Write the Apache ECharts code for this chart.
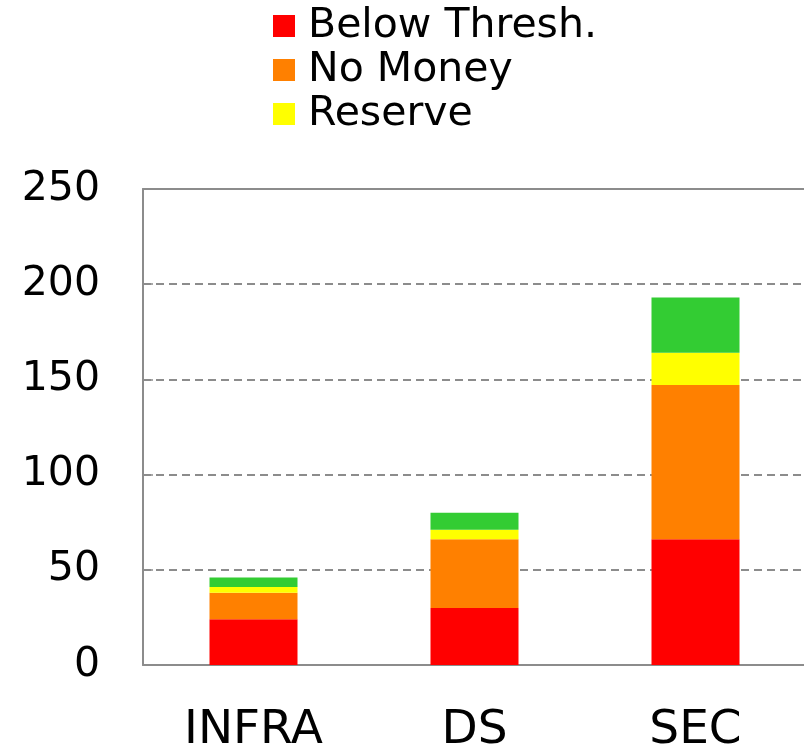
<!DOCTYPE html>
<html>
<head>
<meta charset="utf-8">
<script src="https://cdn.jsdelivr.net/npm/echarts@6/dist/echarts.min.js"></script>
<style>
html,body{margin:0;padding:0;background:#fff;}
#chart{width:804px;height:744px;}
</style>
</head>
<body>
<div id="chart"></div>
<script>
var categories = ['INFRA', 'DS', 'SEC'];
var belowThresh = [24, 30, 66];
var noMoney = [14, 36, 81];
var reserve = [3, 5, 17];
var funded = [5, 9, 29];
var yTicks = [0, 50, 100, 150, 200, 250];

var FONT = 'DejaVu Sans';
var GREY = '#8c8c8c';
var chart = echarts.init(document.getElementById('chart'));

function bar(name, data, color) {
  return {
    name: name, type: 'bar', stack: 'total', data: data, barWidth: 88,
    itemStyle: { color: color }, emphasis: { disabled: true }, animation: false
  };
}

chart.setOption({
  animation: false,
  legend: {
    data: ['Below Thresh.', 'No Money', 'Reserve'],
    orient: 'vertical', left: 273, top: 4, padding: 0,
    itemWidth: 22, itemHeight: 22, itemGap: 0, icon: 'rect',
    textStyle: { fontFamily: FONT, fontSize: 41, color: '#000', lineHeight: 44, padding: [0, 0, 0, 8] }
  },
  grid: {
    left: 143, top: 189, width: 663, bottom: 79, show: false,
    containLabel: false, outerBoundsMode: 'none'
  },
  xAxis: [{
    type: 'category', data: categories,
    axisLine: { lineStyle: { color: GREY, width: 2 } },
    axisTick: { inside: true, length: 14, lineStyle: { color: GREY, width: 1.5 } },
    axisLabel: { fontFamily: FONT, fontSize: 47, color: '#000', margin: 42 }
  }, {
    type: 'category', data: categories, position: 'top',
    axisLine: { lineStyle: { color: GREY, width: 2 } },
    axisTick: { show: false }, axisLabel: { show: false }
  }],
  yAxis: {
    type: 'value', min: yTicks[0], max: yTicks[yTicks.length - 1], interval: 50,
    axisLine: { show: true, lineStyle: { color: GREY, width: 2 } },
    axisTick: { show: true, inside: true, length: 10, lineStyle: { color: GREY, width: 1.5 } },
    axisLabel: { fontFamily: FONT, fontSize: 41, color: '#000', margin: 43 },
    splitLine: { lineStyle: { color: GREY, type: [8, 5], width: 2 } }
  },
  series: [
    bar('Below Thresh.', belowThresh, '#ff0000'),
    bar('No Money', noMoney, '#ff8000'),
    bar('Reserve', reserve, '#ffff00'),
    bar('Funded', funded, '#33cc33')
  ]
});
</script>
</body>
</html>
